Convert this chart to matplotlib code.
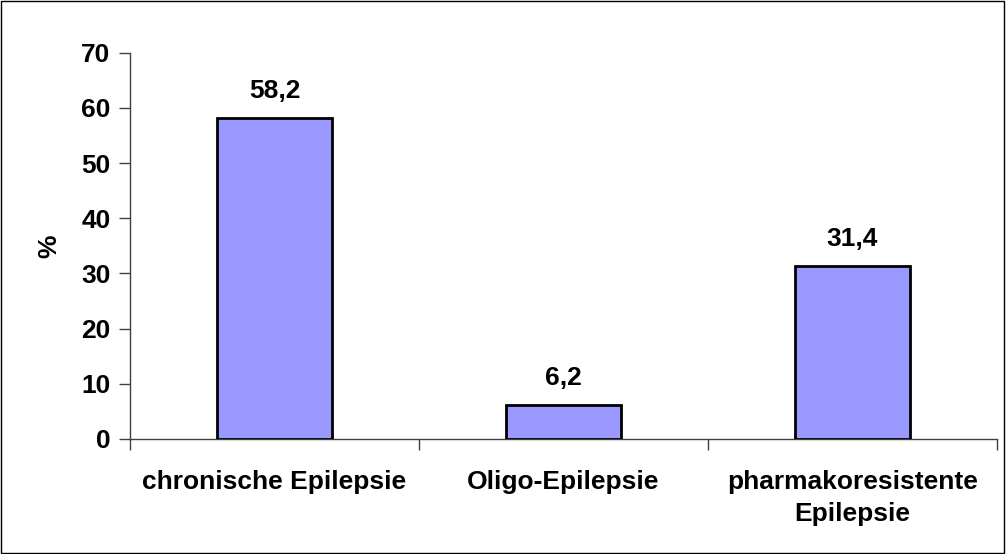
import numpy as np
import matplotlib.pyplot as plt
from matplotlib.patches import Rectangle

categories = ['chronische Epilepsie', 'Oligo-Epilepsie', 'pharmakoresistente\nEpilepsie']
values = [58.2, 6.2, 31.4]
value_labels = ['58,2', '6,2', '31,4']
yticks = [0, 10, 20, 30, 40, 50, 60, 70]

plt.rcParams['font.family'] = ['Liberation Sans', 'DejaVu Sans']
plt.rcParams['font.weight'] = 'bold'
fs = 19

fig = plt.figure(figsize=(10.06, 5.54), dpi=100)
ax = fig.add_axes([0.1292, 0.2076, 0.8618, 0.6973])

x = np.arange(len(categories))
ax.bar(x, values, width=0.4, color='#9999ff', edgecolor='black', linewidth=2, zorder=3)
for xi, v, lab in zip(x, values, value_labels):
    ax.text(xi, v + 2.6, lab, ha='center', va='bottom', fontsize=fs, fontweight='bold')

ax.set_xlim(-0.5, len(categories) - 0.5)
ax.set_ylim(0, 70)
ax.set_yticks(yticks)
ax.set_yticklabels([str(t) for t in yticks], fontsize=fs, fontweight='bold')
ax.set_xticks(np.arange(len(categories) + 1) - 0.5)
ax.set_xticklabels([])
ax.set_xticks(x, minor=True)
ax.set_xticklabels(categories, minor=True, fontsize=fs, fontweight='bold')
for lbl in ax.get_xticklabels(minor=True):
    lbl.set_linespacing(1.45)
ax.tick_params(axis='x', which='minor', length=0, pad=22)
ax.tick_params(axis='x', which='major', length=8, width=1, color='#404040')
ax.tick_params(axis='y', length=8, width=1, color='#404040', pad=6)

for side in ['top', 'right']:
    ax.spines[side].set_visible(False)
for side in ['left', 'bottom']:
    ax.spines[side].set_color('#404040')
    ax.spines[side].set_linewidth(1)

ax.set_ylabel('%', fontsize=fs, fontweight='bold', labelpad=14)

fig.patches.append(Rectangle((0.001, 0.002), 0.997, 0.996, transform=fig.transFigure,
                             fill=False, edgecolor='black', linewidth=1))

fig.savefig('out.png', dpi=100)
